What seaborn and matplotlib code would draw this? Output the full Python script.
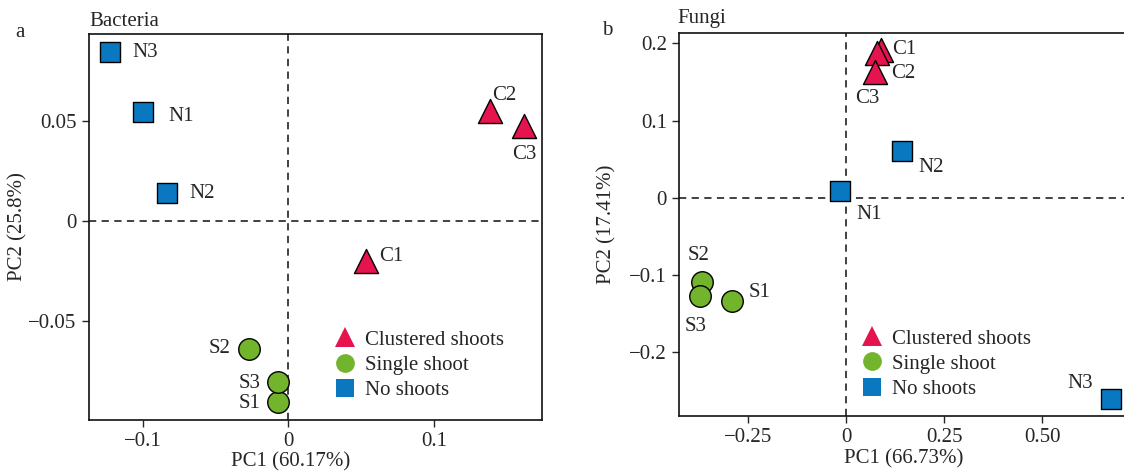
import numpy as np
import pandas as pd
import matplotlib
matplotlib.use('Agg')
import matplotlib.pyplot as plt
import seaborn as sns
from matplotlib.lines import Line2D

# Datos
groups = ['Clustered shoots', 'Single shoot', 'No shoots']
bac_samples = ['C1', 'C2', 'C3', 'S1', 'S2', 'S3', 'N1', 'N2', 'N3']
bac_pc1 = [0.0533, 0.1388, 0.1623, -0.0074, -0.0272, -0.0074, -0.0999, -0.0832, -0.1227]
bac_pc2 = [-0.0202, 0.0550, 0.0476, -0.0907, -0.0640, -0.0807, 0.0545, 0.0142, 0.0848]

fun_samples = ['C1', 'C2', 'C3', 'S1', 'S2', 'S3', 'N1', 'N2', 'N3']
fun_pc1 = [0.089, 0.079, 0.073, -0.292, -0.366, -0.373, -0.016, 0.142, 0.676]
fun_pc2 = [0.192, 0.188, 0.163, -0.1338, -0.1088, -0.127, 0.009, 0.0605, -0.2608]

bac_xticks = [-0.1, 0, 0.1]
bac_xlabels = ['\u22120.1', '0', '0.1']
bac_yticks = [-0.05, 0, 0.05]
bac_ylabels = ['\u22120.05', '0', '0.05']
fun_xticks = [-0.25, 0, 0.25, 0.5]
fun_xlabels = ['\u22120.25', '0', '0.25', '0.50']
fun_yticks = [-0.2, -0.1, 0, 0.1, 0.2]
fun_ylabels = ['\u22120.2', '\u22120.1', '0', '0.1', '0.2']

# Estilo
colores = {'Clustered shoots': '#E5144E', 'Single shoot': '#72B42C', 'No shoots': '#0A78C0'}
marcadores = {'Clustered shoots': '^', 'Single shoot': 'o', 'No shoots': 's'}
tamanos = {'Clustered shoots': 300, 'Single shoot': 240, 'No shoots': 207}
leg_ms = {'Clustered shoots': 15, 'Single shoot': 13.5, 'No shoots': 13}
grupo_de = {'C': 'Clustered shoots', 'S': 'Single shoot', 'N': 'No shoots'}

sns.set_style('ticks')
plt.rcParams['font.family'] = ['Liberation Serif', 'DejaVu Serif']
plt.rcParams['font.size'] = 15
plt.rcParams['axes.unicode_minus'] = True

W, H = 1124, 475
fig = plt.figure(figsize=(W / 100, H / 100), dpi=100)

def px_ax(x0, y0, x1, y1):
    return fig.add_axes([x0 / W, 1 - y1 / H, (x1 - x0) / W, (y1 - y0) / H])

ax1 = px_ax(89, 34, 542, 420)
ax2 = px_ax(679.3, 33.3, 1128.5, 416)

# offsets de etiquetas en pixeles (dx, dy hacia abajo), alineacion
bac_off = {'C1': (13, -5, 'left'), 'C2': (2, -16, 'left'), 'C3': (0, 28, 'center'),
           'S1': (-17, 1, 'right'), 'S2': (-18, 0, 'right'), 'S3': (-17, 1, 'right'),
           'N1': (25, 4, 'left'), 'N2': (22, 1, 'left'), 'N3': (23, 1, 'left')}
fun_off = {'C1': (11, 0, 'left'), 'C2': (14, 21, 'left'), 'C3': (-7, 27, 'center'),
           'S1': (17, -8, 'left'), 'S2': (-4, -26, 'center'), 'S3': (-4, 31, 'center'),
           'N1': (17, 24, 'left'), 'N2': (17, 16, 'left'), 'N3': (-18, -16, 'right')}

def panel(ax, samples, pc1, pc2, offs):
    df = pd.DataFrame({'sample': samples, 'PC1': pc1, 'PC2': pc2})
    df['grupo'] = df['sample'].str[0].map(grupo_de)
    ax.axhline(0, color='#333333', lw=1.3, ls=(0, (4, 3)), zorder=1)
    ax.axvline(0, color='#333333', lw=1.3, ls=(0, (4, 3)), zorder=1)
    for g in groups:
        sub = df[df['grupo'] == g]
        sns.scatterplot(data=sub, x='PC1', y='PC2', marker=marcadores[g], s=tamanos[g],
                        color=colores[g], edgecolor='black', linewidth=1, ax=ax,
                        zorder=3, legend=False, clip_on=False)
    for _, r in df.iterrows():
        dx, dy, ha = offs[r['sample']]
        ax.annotate(r['sample'], (r['PC1'], r['PC2']), xytext=(dx * 0.72, -dy * 0.72),
                    textcoords='offset points', ha=ha, va='center', fontsize=15, zorder=4)
    for s in ax.spines.values():
        s.set_linewidth(1.2)
        s.set_color('#111111')
    ax.tick_params(direction='out', length=5, width=1, labelsize=15, pad=4)

panel(ax1, bac_samples, bac_pc1, bac_pc2, bac_off)
panel(ax2, fun_samples, fun_pc1, fun_pc2, fun_off)

ax1.set_xlim(-0.137, 0.1744)
ax1.set_ylim(-0.0997, 0.0937)
ax1.set_xticks(bac_xticks, bac_xlabels)
ax1.set_yticks(bac_yticks, bac_ylabels)

ax2.set_xlim(-0.425, 0.7195)
ax2.set_ylim(-0.2828, 0.213)
ax2.set_xticks(fun_xticks, fun_xlabels)
ax2.set_yticks(fun_yticks, fun_ylabels)

ax1.set_xlabel('PC1 (60.17%)', fontsize=15)
ax1.set_ylabel('PC2 (25.8%)', fontsize=15)
ax2.set_xlabel('PC1 (66.73%)', fontsize=15)
ax2.set_ylabel('PC2 (17.41%)', fontsize=15)
ax1.xaxis.set_label_coords(0.445, -0.083)
ax1.yaxis.set_label_coords(-0.135, 0.5)
ax2.xaxis.set_label_coords(0.5, -0.0875)
ax2.yaxis.set_label_coords(-0.139, 0.5)

ax1.text(0, 1.022, 'Bacteria', transform=ax1.transAxes, ha='left', va='baseline', fontsize=15)
ax2.text(-0.005, 1.028, 'Fungi', transform=ax2.transAxes, ha='left', va='baseline', fontsize=15)
fig.text(20 / W, 1 - 37 / H, 'a', ha='center', va='baseline', fontsize=15)
fig.text(607 / W, 1 - 35 / H, 'b', ha='center', va='baseline', fontsize=15)

# Leyendas
handles = [Line2D([], [], ls='none', marker=marcadores[g], markersize=leg_ms[g],
                  markerfacecolor=colores[g], markeredgewidth=0) for g in groups]
for ax, lx, ly in [(ax1, 334.5, 330), (ax2, 862, 329)]:
    ax.legend(handles, groups, loc='upper left', bbox_to_anchor=(lx / W, 1 - ly / H),
              bbox_transform=fig.transFigure, frameon=False, fontsize=15,
              borderpad=0, borderaxespad=0, handlelength=1.0, handletextpad=0.45,
              labelspacing=0.27)

plt.savefig('out.png', dpi=100)
plt.close()
print("ok")
